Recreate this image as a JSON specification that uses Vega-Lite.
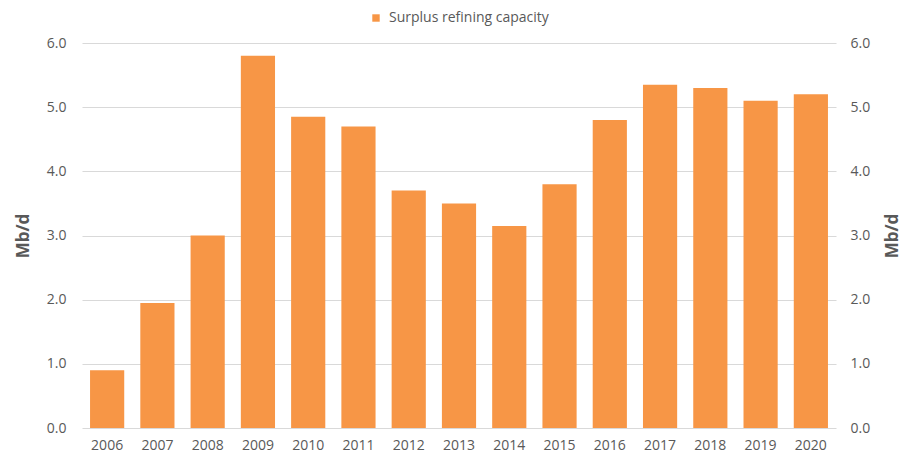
{
  "$schema": "https://vega.github.io/schema/vega-lite/v6.json",
  "width": 754,
  "height": 385,
  "autosize": {"type": "none"},
  "padding": {"left": 82, "top": 43, "right": 73, "bottom": 28},
  "background": "white",
  "config": {
    "font": "Open Sans",
    "view": {"stroke": null},
    "axis": {"labelColor": "#595959", "titleColor": "#595959", "labelFontSize": 14, "domain": false, "ticks": false}
  },
  "data": {"values": [
    {"year": "2006", "value": 0.9, "series": "Surplus refining capacity"},
    {"year": "2007", "value": 1.95, "series": "Surplus refining capacity"},
    {"year": "2008", "value": 3.0, "series": "Surplus refining capacity"},
    {"year": "2009", "value": 5.8, "series": "Surplus refining capacity"},
    {"year": "2010", "value": 4.85, "series": "Surplus refining capacity"},
    {"year": "2011", "value": 4.7, "series": "Surplus refining capacity"},
    {"year": "2012", "value": 3.7, "series": "Surplus refining capacity"},
    {"year": "2013", "value": 3.5, "series": "Surplus refining capacity"},
    {"year": "2014", "value": 3.15, "series": "Surplus refining capacity"},
    {"year": "2015", "value": 3.8, "series": "Surplus refining capacity"},
    {"year": "2016", "value": 4.8, "series": "Surplus refining capacity"},
    {"year": "2017", "value": 5.35, "series": "Surplus refining capacity"},
    {"year": "2018", "value": 5.3, "series": "Surplus refining capacity"},
    {"year": "2019", "value": 5.1, "series": "Surplus refining capacity"},
    {"year": "2020", "value": 5.2, "series": "Surplus refining capacity"}
  ]},
  "encoding": {
    "x": {"field": "year", "type": "ordinal", "title": null,
      "scale": {"paddingInner": 0.32, "paddingOuter": 0.16},
      "axis": {"labelAngle": 0, "labelPadding": 10, "grid": false}}
  },
  "layer": [
    {
      "mark": {"type": "bar", "color": "#f79646"},
      "encoding": {
        "y": {"field": "value", "type": "quantitative", "title": "Mb/d",
          "scale": {"domain": [0, 6]},
          "axis": {"orient": "left", "values": [0,1,2,3,4,5,6], "format": ".1f", "grid": true, "gridColor": "#d9d9d9", "labelPadding": 16, "titleFontSize": 17, "titleFontWeight": "bold", "titlePadding": 14}},
        "fill": {"field": "series", "type": "nominal", "title": null,
          "scale": {"range": ["#f79646"]},
          "legend": {"orient": "none", "legendX": 287, "legendY": -32, "symbolType": "square", "symbolSize": 55, "labelFontSize": 14, "labelColor": "#595959", "symbolStrokeWidth": 0, "labelOffset": 6}}
      }
    },
    {
      "mark": {"type": "bar", "opacity": 0},
      "encoding": {
        "y": {"field": "value", "type": "quantitative", "title": "Mb/d",
          "scale": {"domain": [0, 6]},
          "axis": {"orient": "right", "values": [0,1,2,3,4,5,6], "format": ".1f", "grid": false, "labelPadding": 14, "titleFontSize": 17, "titleFontWeight": "bold", "titlePadding": 32, "titleAngle": 270}}
      }
    }
  ],
  "resolve": {"scale": {"y": "independent"}}
}
